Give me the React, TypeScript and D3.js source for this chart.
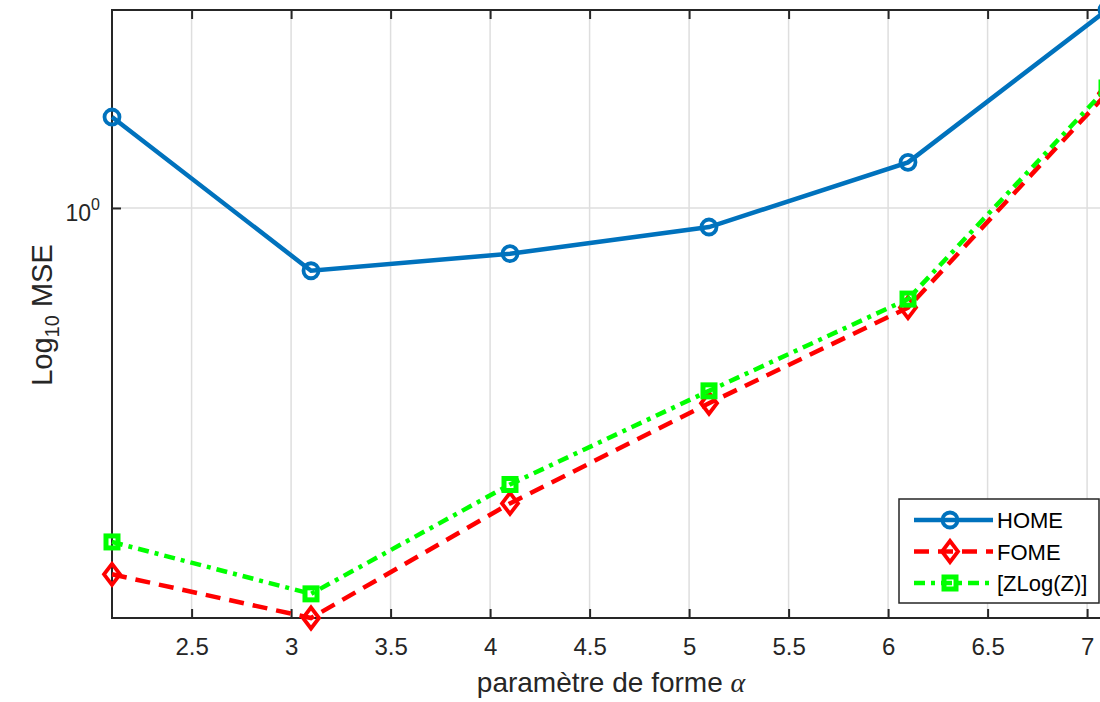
import { useEffect, useRef } from "react";
import * as d3 from "d3";

// values
const alphas = [2.1, 3.1, 4.1, 5.1, 6.1, 7.1];
const homeMse = [1.31, 0.83, 0.873, 0.945, 1.145, 1.8];
const fomeMse = [0.337, 0.296, 0.416, 0.56, 0.744, 1.406];
const zlogMse = [0.371, 0.318, 0.44, 0.581, 0.763, 1.428];
const xTicks = [2.5, 3, 3.5, 4, 4.5, 5, 5.5, 6, 6.5, 7];
const yTicks = [1];
const seriesNames = ["HOME", "FOME", "[ZLog(Z)]"];

const width = 1100;
const height = 702;
const margin = { top: 10, right: -7, bottom: 84, left: 112 };
const ink = "#262626";
const font = "'Liberation Sans', Arial, sans-serif";

export default function App() {
  const svgRef = useRef<SVGSVGElement>(null);

  useEffect(() => {
    const svg = d3.select(svgRef.current);
    svg.selectAll("*").remove();

    const boundsWidth = width - margin.left - margin.right;
    const boundsHeight = height - margin.top - margin.bottom;

    const xScale = d3.scaleLinear().domain([2.1, 7.1]).range([0, boundsWidth]);
    const yScale = d3.scaleLog().domain([0.296, 1.8]).range([boundsHeight, 0]);

    const g = svg
      .append("g")
      .attr("transform", `translate(${margin.left},${margin.top})`);

    // grille
    g.append("g")
      .selectAll("line")
      .data(xTicks)
      .enter()
      .append("line")
      .attr("x1", (d) => xScale(d))
      .attr("x2", (d) => xScale(d))
      .attr("y1", 0)
      .attr("y2", boundsHeight)
      .style("stroke", "#dedede")
      .style("stroke-width", 1.5);

    g.append("g")
      .selectAll("line")
      .data(yTicks)
      .enter()
      .append("line")
      .attr("x1", 0)
      .attr("x2", boundsWidth)
      .attr("y1", (d) => yScale(d))
      .attr("y2", (d) => yScale(d))
      .style("stroke", "#dedede")
      .style("stroke-width", 1.5);

    // axes (ticks inward, box)
    const styleAxis = (sel) => {
      sel.select(".domain").remove();
      sel.selectAll("line").style("stroke", ink).style("stroke-width", 2);
      sel
        .selectAll("text")
        .style("font-family", font)
        .style("font-size", "24px")
        .style("fill", ink);
    };

    g.append("g")
      .attr("transform", `translate(0,${boundsHeight})`)
      .call(
        d3.axisBottom(xScale).tickValues(xTicks).tickSize(-9).tickPadding(20).tickFormat(d3.format("~g"))
      )
      .call(styleAxis);

    g.append("g")
      .call(d3.axisTop(xScale).tickValues(xTicks).tickSize(-9).tickFormat(() => ""))
      .call(styleAxis);

    const yAxis = g
      .append("g")
      .call(d3.axisLeft(yScale).tickValues(yTicks).tickSize(-9).tickFormat(() => ""))
      .call(styleAxis);

    yAxis
      .selectAll(".tick")
      .append("text")
      .attr("x", -12)
      .attr("y", 13)
      .attr("text-anchor", "end")
      .style("font-family", font)
      .style("font-size", "23px")
      .style("fill", ink)
      .text("10")
      .append("tspan")
      .attr("dy", -11)
      .style("font-size", "16px")
      .text("0");

    g.append("rect")
      .attr("width", boundsWidth)
      .attr("height", boundsHeight)
      .attr("fill", "none")
      .attr("stroke", ink)
      .attr("stroke-width", 2);

    // séries
    const series = [
      { name: seriesNames[0], values: homeMse, color: "#0072BD", dash: null, marker: "circle" },
      { name: seriesNames[1], values: fomeMse, color: "#ff0000", dash: "15,9", marker: "diamond" },
      { name: seriesNames[2], values: zlogMse, color: "#00ff00", dash: "11,6,4,6", marker: "square" },
    ];

    const drawMarker = (sel, kind, color) => {
      if (kind === "circle") {
        sel.append("circle").attr("r", 7.5).attr("fill", "none").attr("stroke", color).attr("stroke-width", 3.8);
      } else if (kind === "diamond") {
        sel
          .append("path")
          .attr("d", "M0,-10.5L8,0L0,10.5L-8,0Z")
          .attr("fill", "none")
          .attr("stroke", color)
          .attr("stroke-width", 3.8);
      } else {
        sel
          .append("rect")
          .attr("x", -6)
          .attr("y", -6)
          .attr("width", 12)
          .attr("height", 12)
          .attr("fill", "none")
          .attr("stroke", color)
          .attr("stroke-width", 5);
      }
    };

    series.forEach((s) => {
      const line = d3
        .line<number>()
        .x((d, i) => xScale(alphas[i]))
        .y((d) => yScale(d));

      g.append("path")
        .datum(s.values)
        .attr("fill", "none")
        .attr("stroke", s.color)
        .attr("stroke-width", 4.5)
        .attr("stroke-dasharray", s.dash)
        .attr("d", line);

      s.values.forEach((v, i) => {
        const m = g
          .append("g")
          .attr("transform", `translate(${xScale(alphas[i])},${yScale(v)})`);
        drawMarker(m, s.marker, s.color);
      });
    });

    // légende
    const legend = svg.append("g").attr("transform", "translate(899,499)");
    legend
      .append("rect")
      .attr("width", 200)
      .attr("height", 104)
      .attr("fill", "white")
      .attr("stroke", ink)
      .attr("stroke-width", 1.5);

    series.forEach((s, i) => {
      const row = legend.append("g").attr("transform", `translate(0,${21 + i * 31.5})`);
      row
        .append("line")
        .attr("x1", 15)
        .attr("x2", 94)
        .attr("stroke", s.color)
        .attr("stroke-width", 4.5)
        .attr("stroke-dasharray", s.dash);
      const m = row.append("g").attr("transform", "translate(51,0)");
      drawMarker(m, s.marker, s.color);
      row
        .append("text")
        .attr("x", 98)
        .attr("y", 8)
        .style("font-family", font)
        .style("font-size", "22px")
        .style("fill", "#000")
        .text(s.name);
    });

    // titres des axes
    svg
      .append("text")
      .attr("x", 611)
      .attr("y", 692)
      .attr("text-anchor", "middle")
      .style("font-family", font)
      .style("font-size", "28px")
      .style("fill", ink)
      .text("paramètre de forme ")
      .append("tspan")
      .style("font-family", "'Liberation Serif', 'Times New Roman', serif")
      .style("font-style", "italic")
      .text("α");

    const yLabel = svg
      .append("text")
      .attr("transform", `translate(52,315) rotate(-90)`)
      .attr("text-anchor", "middle")
      .style("font-family", font)
      .style("font-size", "29px")
      .style("fill", ink);
    yLabel.append("tspan").text("Log");
    yLabel.append("tspan").attr("dy", 7).style("font-size", "20px").text("10");
    yLabel.append("tspan").attr("dy", -7).text(" MSE");
  }, []);

  return (
    <svg
      ref={svgRef}
      width={width}
      height={height}
      style={{ position: "fixed", left: 0, top: 0, background: "white" }}
    ></svg>
  );
}
